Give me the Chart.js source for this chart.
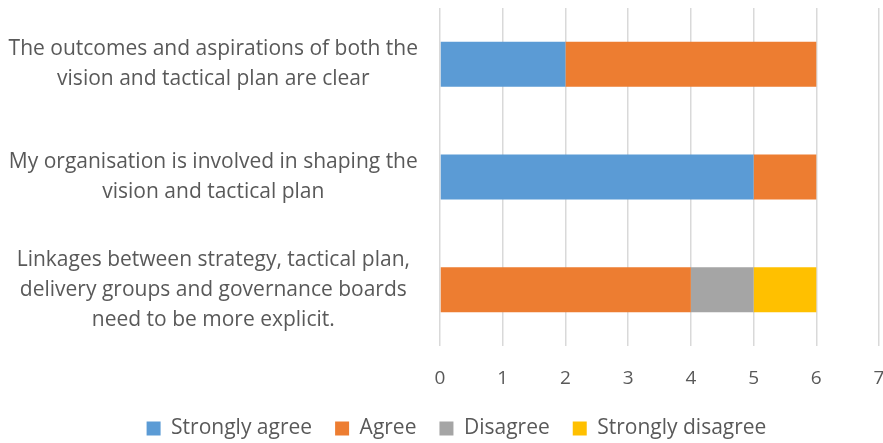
<!DOCTYPE html>
<html>
<head>
<meta charset="utf-8">
<script src="https://cdn.jsdelivr.net/npm/chart.js@4"></script>
<style>
  html, body { margin: 0; padding: 0; background: #fff; overflow: hidden; }
  #wrap { width: 883px; height: 449px; }
</style>
</head>
<body>
<div id="wrap"><canvas id="chart"></canvas></div>
<script>
const categories = [
  ['The outcomes and aspirations of both the', 'vision and tactical plan are clear'],
  ['My organisation is involved in shaping the', 'vision and tactical plan'],
  ['Linkages between strategy, tactical plan,', 'delivery groups and governance boards', 'need to be more explicit.']
];
const stronglyAgree = [2, 5, 0];
const agree = [4, 1, 4];
const disagree = [0, 0, 1];
const stronglyDisagree = [0, 0, 1];
const xTicks = [0, 1, 2, 3, 4, 5, 6, 7];

const textColor = '#595959';
const fontFamily = '"Open Sans", "Liberation Sans", sans-serif';

// nudge the legend a little right, like the original
const legendShift = {
  id: 'legendShift',
  afterLayout(chart) {
    if (chart.legend) chart.legend.left += 30;
  },
};

const ctx = document.getElementById('chart').getContext('2d');
new Chart(ctx, {
  type: 'bar',
  data: {
    labels: categories,
    datasets: [
      { label: 'Strongly agree', data: stronglyAgree, backgroundColor: '#5B9BD5' },
      { label: 'Agree', data: agree, backgroundColor: '#ED7D31' },
      { label: 'Disagree', data: disagree, backgroundColor: '#A5A5A5' },
      { label: 'Strongly disagree', data: stronglyDisagree, backgroundColor: '#FFC000' },
    ],
  },
  plugins: [legendShift],
  options: {
    indexAxis: 'y',
    responsive: true,
    maintainAspectRatio: false,
    animation: false,
    layout: { padding: { top: 8, right: 0, left: 0, bottom: 0 } },
    datasets: {
      bar: { categoryPercentage: 1, barPercentage: 0.4, borderWidth: 0 },
    },
    scales: {
      x: {
        stacked: true,
        min: 0,
        max: 7,
        afterBuildTicks: (axis) => { axis.ticks = xTicks.map(v => ({ value: v })); },
        afterFit: (scale) => {
          scale.height = 49;
          scale.paddingRight = 4;
        },
        grid: { color: '#D9D9D9', lineWidth: 1.5, drawTicks: false },
        border: { display: false },
        ticks: { color: textColor, font: { family: fontFamily, size: 19, lineHeight: 1.2 }, padding: 21 },
      },
      y: {
        stacked: true,
        grid: { display: false },
        border: { display: false },
        afterFit: (scale) => {
          scale.width = 440;
          scale.paddingTop = 0;
          scale.paddingBottom = 0;
        },
        ticks: {
          color: textColor,
          autoSkip: false,
          crossAlign: 'center',
          padding: 14,
          font: { family: fontFamily, size: 21, lineHeight: 1.43 },
        },
      },
    },
    plugins: {
      legend: {
        position: 'bottom',
        labels: {
          color: textColor,
          boxWidth: 14,
          boxHeight: 14,
          padding: 23,
          font: { family: fontFamily, size: 21 },
        },
      },
      tooltip: { enabled: false },
    },
  },
});
</script>
</body>
</html>
